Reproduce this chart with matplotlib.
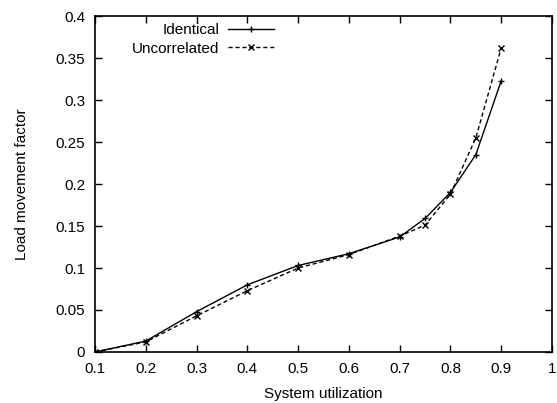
import matplotlib
matplotlib.use("Agg")
import matplotlib.pyplot as plt

util = [0.1, 0.2, 0.3, 0.4, 0.5, 0.6, 0.7, 0.75, 0.8, 0.85, 0.9]
identical = [0.0, 0.013, 0.048, 0.080, 0.103, 0.117, 0.137, 0.159, 0.190, 0.235, 0.323]
uncorrelated = [0.0, 0.012, 0.043, 0.073, 0.100, 0.116, 0.138, 0.151, 0.188, 0.255, 0.362]
xticks = [0.1, 0.2, 0.3, 0.4, 0.5, 0.6, 0.7, 0.8, 0.9, 1.0]
xticklabels = ["0.1", "0.2", "0.3", "0.4", "0.5", "0.6", "0.7", "0.8", "0.9", "1"]
yticks = [0, 0.05, 0.1, 0.15, 0.2, 0.25, 0.3, 0.35, 0.4]
yticklabels = ["0", "0.05", "0.1", "0.15", "0.2", "0.25", "0.3", "0.35", "0.4"]

plt.rcParams['font.family'] = ['Liberation Sans', 'DejaVu Sans']
fig = plt.figure(figsize=(5.57, 4.03), dpi=100)
ax = fig.add_axes([0.1706, 0.1266, 0.8204, 0.8334])

ax.plot(util, identical, color='black', lw=1.0, ls='-', marker='+', ms=5, mew=1.0, label='Identical')
ax.plot(util, uncorrelated, color='black', lw=1.0, ls=(0, (3, 2)), marker='x', ms=4, mew=1.0, label='Uncorrelated')

ax.set_xlim(0.1, 1.0)
ax.set_ylim(0, 0.4)
ax.set_xticks(xticks)
ax.set_xticklabels(xticklabels)
ax.set_yticks(yticks)
ax.set_yticklabels(yticklabels)
ax.tick_params(direction='in', top=True, right=True, length=5, width=1, labelsize=11, pad=7)
for s in ax.spines.values():
    s.set_linewidth(1.2)
ax.set_xlabel('System utilization', fontsize=11, labelpad=8)
ax.set_ylabel('Load movement factor', fontsize=11, labelpad=19)

ax.legend(loc='upper right', bbox_to_anchor=(274 / 557, 1 - 23 / 403), bbox_transform=fig.transFigure,
          frameon=False, markerfirst=False, fontsize=11, numpoints=1,
          handlelength=3.0, handletextpad=0.6, labelspacing=0.3, borderaxespad=0, borderpad=0)

fig.savefig('out.png', dpi=100)
